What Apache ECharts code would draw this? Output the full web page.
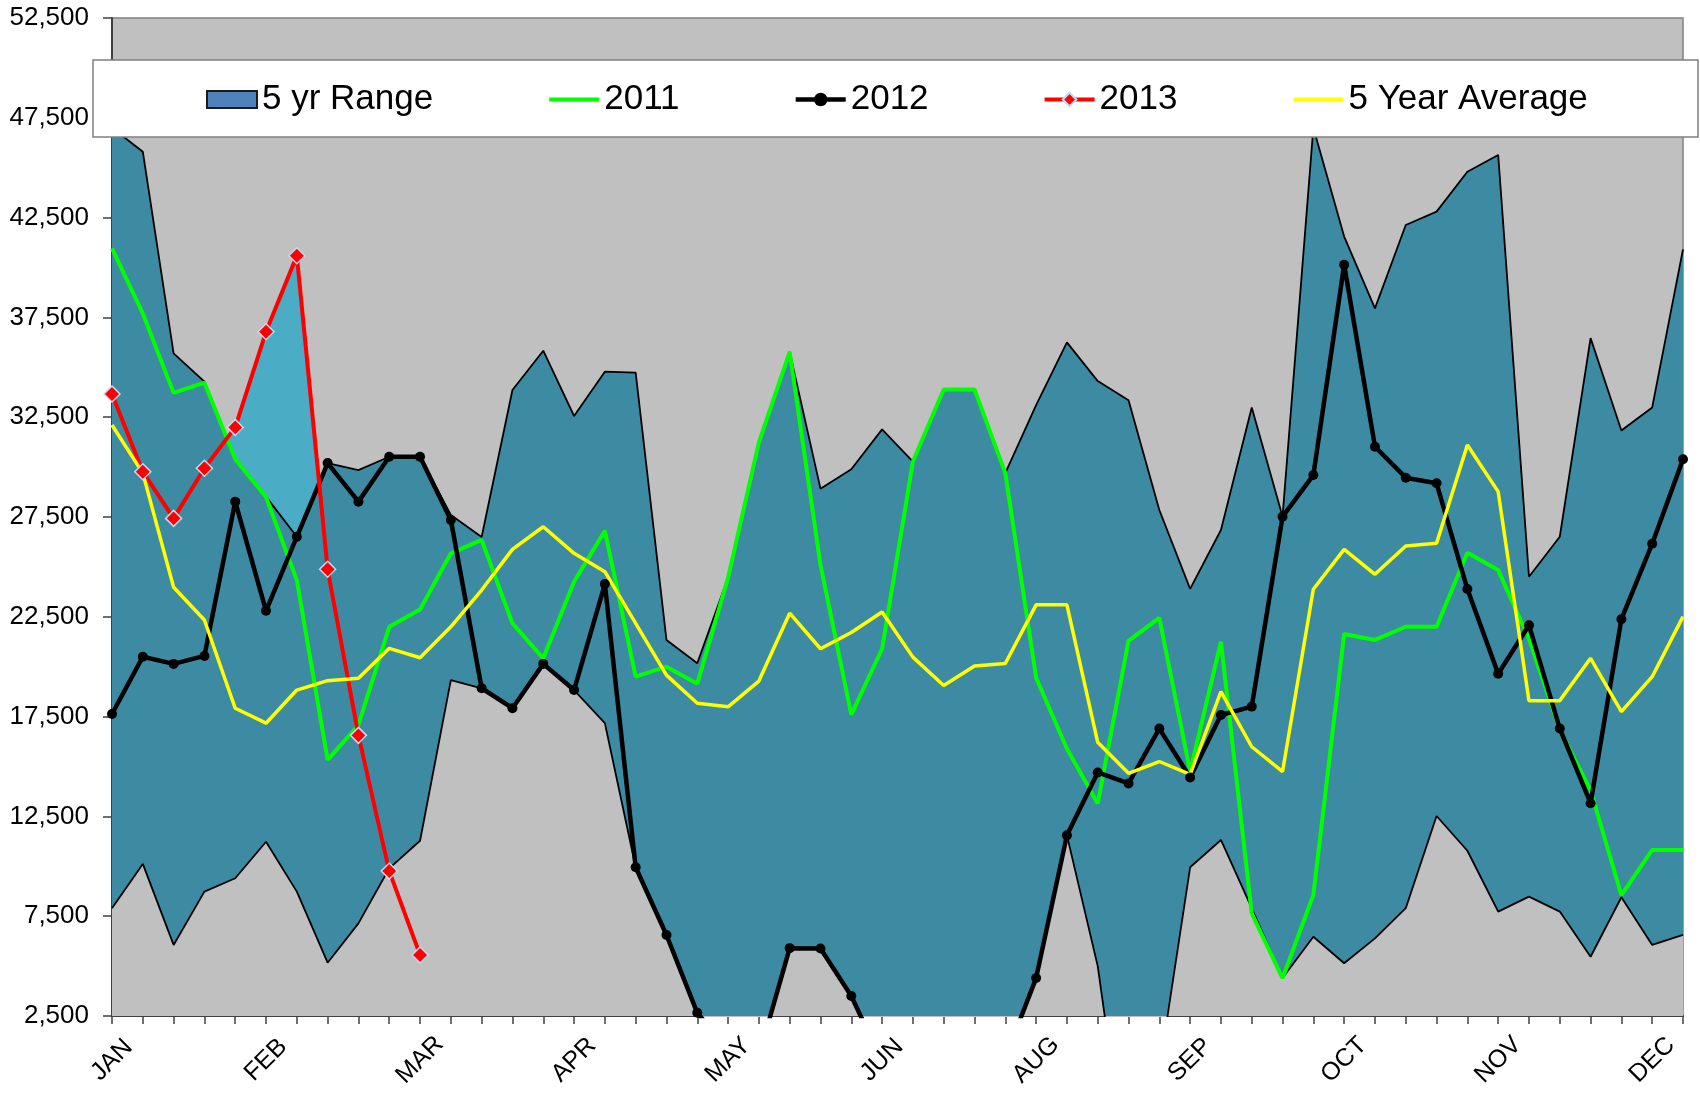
<!DOCTYPE html>
<html>
<head>
<meta charset="utf-8">
<script src="https://cdn.jsdelivr.net/npm/echarts@6/dist/echarts.min.js"></script>
<style>
html,body{margin:0;padding:0;background:#ffffff;}
#chart{width:1700px;height:1094px;}
</style>
</head>
<body>
<div id="chart"></div>
<script>
// Weekly categories (52 weeks)
const weeks = ['W01','W02','W03','W04','W05','W06','W07','W08','W09','W10','W11','W12','W13',
  'W14','W15','W16','W17','W18','W19','W20','W21','W22','W23','W24','W25','W26',
  'W27','W28','W29','W30','W31','W32','W33','W34','W35','W36','W37','W38','W39',
  'W40','W41','W42','W43','W44','W45','W46','W47','W48','W49','W50','W51','W52'];
// Month tick labels shown every 5th week
const monthLabels = ['JAN','FEB','MAR','APR','MAY','JUN','AUG','SEP','OCT','NOV','DEC'];
// Y tick values
const yTicks = [2500, 7500, 12500, 17500, 22500, 27500, 32500, 37500, 42500, 47500, 52500];

const rangeMax = [47000,45800,35700,34280,30440,28520,26510,30200,29850,30520,30520,27600,26500,
  33860,35830,32560,34780,34730,21340,20170,24460,31240,35770,28920,29890,31890,
  30280,33890,33890,29700,33100,36250,34310,33350,27850,23900,26850,32990,27520,
  47000,41550,37950,42130,42800,44800,45640,24510,26510,36460,31830,32990,40910];

const rangeMin = [7900,10120,6060,8730,9400,11230,8730,5170,7140,9900,11280,19330,18920,
  18000,20140,18830,17170,9950,6560,2660,800,500,5900,5880,3500,200,
  500,800,600,400,4400,11550,5000,-6000,-200,9950,11320,7900,4400,
  6470,5140,6390,7900,12520,10780,7730,8480,7730,5470,8450,6060,6560];

const y2011 = [40960,37700,33720,34230,30400,28500,24340,15330,17080,22000,22870,25680,26350,
  22170,20420,24260,26810,19500,20000,19150,24460,31240,35770,25100,17600,20900,
  30280,33890,33890,29700,19450,15890,13150,21290,22450,14750,21250,7640,4400,
  8560,21640,21340,22000,22000,25710,24840,21400,16830,13800,8560,10820,10820];

const y2012 = [17630,20500,20140,20540,28270,22800,26510,30200,28270,30520,30520,27350,18920,
  17920,20140,18830,24140,9950,6560,2660,800,500,5900,5880,3500,200,
  500,800,600,400,4400,11550,14700,14150,16900,14450,17580,18000,27520,
  29600,40140,31020,29470,29190,23890,19650,22080,16900,13160,22380,26160,30390];

const y2013 = [33660,29770,27430,29940,31990,36780,40590,24880,16560,9760,5560];

const avg5 = [32110,29700,23980,22340,17920,17170,18830,19300,19420,20920,20450,22000,23840,
  25880,27010,25680,24760,22170,19580,18170,17990,19280,22680,20900,21710,22740,
  20480,19060,20030,20160,23100,23100,16210,14660,15250,14600,18750,15990,14740,
  23880,25880,24630,26050,26180,31110,28770,18300,18300,20420,17750,19500,22510];

const FONT = 'Liberation Sans, Arial, sans-serif';

const chart = echarts.init(document.getElementById('chart'), null, {renderer: 'canvas'});

const option = {
  animation: false,
  backgroundColor: '#ffffff',
  grid: {
    left: 112, right: 17, top: 18, bottom: 78,
    show: true, backgroundColor: '#C0C0C0', borderColor: '#808080', borderWidth: 1.5
  },
  xAxis: {
    type: 'category',
    data: weeks,
    boundaryGap: false,
    axisLine: {show: true, lineStyle: {color: '#404040', width: 2}},
    axisTick: {show: true, interval: 0, length: 8, lineStyle: {color: '#404040', width: 1.5}},
    axisLabel: {
      interval: 4, rotate: 45, margin: 44, fontSize: 25, color: '#000', fontFamily: FONT,
      align: 'center', verticalAlign: 'middle',
      formatter: function (v, i) { return monthLabels[Math.round(i / 5)] || ''; }
    },
    splitLine: {show: false}
  },
  yAxis: {
    type: 'value',
    min: 2500, max: 52500,
    axisLine: {show: true, lineStyle: {color: '#404040', width: 2}},
    axisTick: {show: true, length: 9, customValues: yTicks, lineStyle: {color: '#404040', width: 1.5}},
    axisLabel: {
      customValues: yTicks, margin: 23, fontSize: 26, color: '#000', fontFamily: FONT,
      formatter: function (v) { return Number(v).toLocaleString('en-US'); }
    },
    splitLine: {show: false}
  },
  graphic: [{
    type: 'rect', z: 100,
    shape: {x: 93, y: 60, width: 1605, height: 77},
    style: {fill: '#ffffff', stroke: '#808080', lineWidth: 1.5}
  }],
  legend: {
    z: 200,
    left: 206, top: 82,
    padding: 0,
    itemGap: 114, itemWidth: 50, itemHeight: 17,
    selectedMode: false,
    textStyle: {fontSize: 35, color: '#000', fontFamily: FONT},
    data: [
      {name: '5 yr Range', icon: 'rect', itemStyle: {color: '#4F81BD', borderColor: '#1a1a1a', borderWidth: 2}},
      {name: '2011', itemStyle: {opacity: 0}, lineStyle: {width: 4, color: '#00FF00'}},
      {name: '2012', lineStyle: {width: 4.5, color: '#000'}},
      {name: '2013', lineStyle: {width: 4, color: '#FF0000'}},
      {name: '5 Year Average', itemStyle: {opacity: 0}, lineStyle: {width: 4, color: '#FFFF00'}}
    ]
  },
  series: [
    {
      name: '2013 above range', type: 'line', data: y2013, symbol: 'none', silent: true,
      lineStyle: {opacity: 0, width: 0},
      areaStyle: {color: '#4BACC6', opacity: 1, origin: 'start'}
    },
    {
      name: '5 yr Range', type: 'line', data: rangeMax, symbol: 'none', silent: true,
      itemStyle: {color: '#4F81BD'},
      lineStyle: {color: '#000', width: 1.8},
      areaStyle: {color: '#3D8BA3', opacity: 1, origin: 'start'}
    },
    {
      name: '5 yr Range min', type: 'line', data: rangeMin, symbol: 'none', silent: true,
      lineStyle: {color: '#000', width: 1.8},
      areaStyle: {color: '#C0C0C0', opacity: 1, origin: 'start'}
    },
    {
      name: '2011', type: 'line', data: y2011, symbol: 'none',
      itemStyle: {color: '#00FF00'},
      lineStyle: {color: '#00FF00', width: 4}
    },
    {
      name: '2012', type: 'line', data: y2012, symbol: 'circle', symbolSize: 10, showAllSymbol: true,
      itemStyle: {color: '#000'},
      lineStyle: {color: '#000', width: 4.5}
    },
    {
      name: '2013', type: 'line', data: y2013, symbol: 'diamond', symbolSize: 16, showAllSymbol: true,
      itemStyle: {color: '#FF0000', borderColor: '#C6D9F1', borderWidth: 1.5},
      lineStyle: {color: '#FF0000', width: 4}
    },
    {
      name: '5 Year Average', type: 'line', data: avg5, symbol: 'none',
      itemStyle: {color: '#FFFF00'},
      lineStyle: {color: '#FFFF00', width: 3.5}
    }
  ]
};

chart.setOption(option);
</script>
</body>
</html>
